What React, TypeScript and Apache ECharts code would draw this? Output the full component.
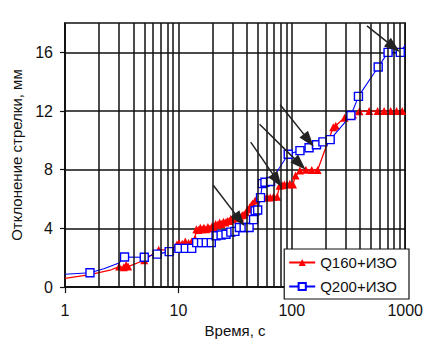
import React, { useEffect, useRef } from "react";
import * as echarts from "echarts";

const xTickLabels = [1, 10, 100, 1000];
const yTickValues = [0, 4, 8, 12, 16];
const seriesNames = ["Q160+ИЗО", "Q200+ИЗО"];
const xName = "Время, с";
const yName = "Отклонение стрелки, мм";

// Q160+ИЗО (red, filled triangles)
const redData: number[][] = [
  [1, 0.6], [1.66, 0.85], [2.5, 1.15], [3.0, 1.4], [3.3, 1.35], [3.46, 1.5], [3.6, 1.4],
  [5.0, 1.83], [6.7, 2.55], [8.5, 2.5], [9.7, 2.9], [10.1, 3.0], [10.8, 2.95], [11.5, 3.1],
  [12.3, 3.0], [13.1, 3.1], [14.0, 3.3], [14.4, 3.95], [15.0, 3.9], [15.6, 4.05], [16.2, 3.95],
  [16.8, 4.05], [17.5, 3.95], [18.2, 4.1], [19.0, 4.0], [19.8, 4.15], [20.5, 4.1], [21.3, 4.3],
  [22.2, 4.25], [23.1, 4.4], [24.0, 4.3], [25.0, 4.45], [26.0, 4.4], [27.0, 4.5], [28.0, 4.5],
  [29.0, 4.65], [30.0, 4.6], [31.0, 4.75], [32.0, 4.7], [33.5, 4.8], [35.0, 4.75], [36.5, 4.9],
  [38.0, 4.95], [39.5, 5.1], [40.9, 5.3], [42.5, 5.45], [44, 5.6], [45.2, 5.7], [47.5, 5.9],
  [49.9, 6.05], [53, 6.1], [57.4, 6.1], [61, 6.12], [64.6, 6.1], [69, 6.15], [74.2, 6.15],
  [78, 6.9], [82.2, 6.95], [86, 7.0], [90.8, 7.0], [96, 7.05], [102.4, 7.0], [108, 7.6],
  [118, 7.95], [133, 8.0], [150, 7.98], [169, 7.98], [232, 10.9], [244, 11.0], [292, 11.55],
  [346, 11.76], [395, 11.98], [482, 12], [571, 12], [652, 12], [745, 12], [840, 12], [942, 12],
];
const redNoMarker = [1, 1.66, 2.5];

// Q200+ИЗО (blue, open squares)
const blueData: number[][] = [
  [1, 0.88], [1.66, 0.98], [2.2, 1.25], [3.0, 1.65], [3.35, 2.05], [5.0, 2.03], [6.5, 2.25],
  [8.3, 2.42], [10.1, 2.64], [11.5, 2.64], [13.1, 2.64], [14.5, 3.03], [16, 3.03], [17.6, 3.03],
  [19.5, 3.03], [21.5, 3.5], [23.8, 3.55], [26.3, 3.6], [29, 3.75], [31.5, 3.8], [34.5, 4.06],
  [38, 4.06], [42, 4.06], [46, 4.6], [47.5, 5.2], [50, 5.25], [53, 6.1], [55, 7.05], [58, 7.15],
  [65, 7.2], [93, 9.05], [118, 9.3], [142, 9.5], [165, 9.7], [188, 9.9], [218, 10.05],
  [332, 11.7], [387, 13.0], [578, 15.0], [706, 16.0], [905, 16.0], [1000, 16.5],
];
const blueNoMarker = [1, 2.2, 3.0, 1000];

// annotation arrows: [start, end] in data coordinates
const arrows: number[][][] = [
  [[20.3, 6.94], [34.8, 4.58]],
  [[43.4, 9.88], [74.5, 7.26]],
  [[52, 11.1], [118, 8.38]],
  [[79, 12.43], [141, 10.0]],
  [[460, 17.8], [791, 16.36]],
];

const decades = [1, 10, 100];
const minorSteps = [2, 3, 4, 5, 6, 7, 8, 9];

const FONT = "'Liberation Sans', Arial, sans-serif";

export default function App() {
  const ref = useRef<HTMLDivElement>(null);
  useEffect(() => {
    if (!ref.current) return;
    const chart = echarts.init(ref.current, undefined, { renderer: "svg" });
    const minorLines: any[] = [];
    decades.forEach((d) => minorSteps.forEach((s) => minorLines.push({ xAxis: d * s })));

    const mk = (data: number[][], hidden: number[]) =>
      data.map((p) => (hidden.includes(p[0]) ? { value: p, symbol: "none" } : { value: p }));

    chart.setOption({
      animation: false,
      backgroundColor: "#fff",
      textStyle: { fontFamily: FONT },
      grid: {
        left: 65, right: 16, top: 23, bottom: 45,
        show: true, borderColor: "#111", borderWidth: 1.5, backgroundColor: "transparent",
      },
      legend: {
        orient: "vertical",
        right: 17,
        bottom: 44,
        data: seriesNames,
        backgroundColor: "#fff",
        borderColor: "#111",
        borderWidth: 1.2,
        borderRadius: 0,
        padding: [6, 12, 5, 4],
        itemGap: 9,
        itemWidth: 26,
        itemHeight: 9,
        z: 10,
        textStyle: { fontFamily: FONT, fontSize: 15, color: "#111" },
      },
      xAxis: {
        type: "log",
        logBase: 10,
        min: 1,
        max: 1000,
        name: xName,
        nameLocation: "middle",
        nameGap: 32,
        nameTextStyle: { fontFamily: FONT, fontSize: 15, color: "#111" },
        axisLine: { show: true, lineStyle: { color: "#111", width: 1.5 } },
        axisTick: { show: true, length: 6, lineStyle: { color: "#111", width: 1.2 } },
        axisLabel: {
          fontFamily: FONT, fontSize: 16, color: "#111", margin: 15,
          formatter: (v: number) => (xTickLabels.includes(Math.round(v)) ? String(Math.round(v)) : ""),
        },
        splitLine: { show: true, lineStyle: { color: "#111", width: 1.5 } },
      },
      yAxis: {
        type: "value",
        min: 0,
        max: 18,
        interval: 4,
        name: yName,
        nameLocation: "middle",
        nameGap: 38,
        nameTextStyle: { fontFamily: FONT, fontSize: 15, color: "#111" },
        axisLine: { show: true, lineStyle: { color: "#111", width: 1.5 } },
        axisTick: { show: true, length: 5, customValues: yTickValues, lineStyle: { color: "#111", width: 1.2 } },
        axisLabel: {
          fontFamily: FONT, fontSize: 16, color: "#111", margin: 12,
          customValues: yTickValues,
        },
        splitLine: { show: true, lineStyle: { color: "#111", width: 1.5 } },
      },
      series: [
        {
          name: "grid-minor",
          type: "scatter",
          data: [[1, 0]],
          symbolSize: 0,
          silent: true,
          z: 1,
          markLine: {
            silent: true,
            symbol: ["none", "none"],
            label: { show: false },
            lineStyle: { color: "#111", width: 1.5, type: "solid" },
            emphasis: { disabled: true },
            data: minorLines,
          },
        },
        {
          name: seriesNames[0],
          type: "line",
          data: mk(redData, redNoMarker),
          symbol: "triangle",
          symbolSize: 8,
          showAllSymbol: true,
          itemStyle: { color: "#ff0000" },
          lineStyle: { color: "#ff0000", width: 1.3 },
          z: 3,
        },
        {
          name: seriesNames[1],
          type: "line",
          data: mk(blueData, blueNoMarker),
          symbol: "rect",
          symbolSize: 8,
          showAllSymbol: true,
          itemStyle: { color: "#fff", borderColor: "#0000ff", borderWidth: 1.4 },
          lineStyle: { color: "#0000ff", width: 1.1 },
          z: 4,
        },
        {
          name: "arrows",
          type: "scatter",
          data: [[1, 0]],
          symbolSize: 0,
          silent: true,
          z: 5,
          markLine: {
            silent: true,
            symbol: ["none", "triangle"],
            symbolSize: [11, 16],
            label: { show: false },
            lineStyle: { color: "#222", width: 1.5, type: "solid" },
            itemStyle: { color: "#111" },
            emphasis: { disabled: true },
            data: arrows.map((a) => [{ coord: a[0] }, { coord: a[1] }]),
          },
        },
      ],
    });
    return () => chart.dispose();
  }, []);
  return (
    <div
      ref={ref}
      style={{ position: "fixed", left: 0, top: 0, width: 426, height: 343 }}
    />
  );
}
